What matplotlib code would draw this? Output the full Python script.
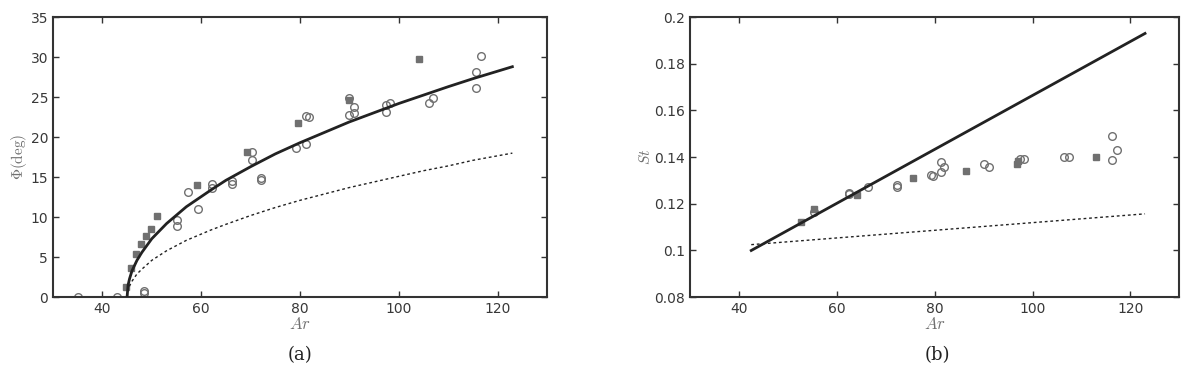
import numpy as np
import matplotlib.pyplot as plt

# ---- panel (a): Phi vs Ar ----
curve_ar = [45, 45.2, 45.5, 46, 47, 48, 50, 53, 57, 62, 65, 70, 75, 80, 85, 90,
            95, 100, 105, 110, 115, 123]
phi_solid = [0, 1.5, 2.3, 3.3, 4.6, 5.6, 7.3, 9.2, 11.3, 13.4, 14.6, 16.3, 17.9, 19.3,
             20.6, 21.9, 23.05, 24.2, 25.25, 26.3, 27.3, 28.8]
phi_dotted = [0, 0.9, 1.4, 2.0, 2.9, 3.5, 4.6, 5.8, 7.1, 8.4, 9.1, 10.2, 11.2, 12.1,
              12.9, 13.7, 14.4, 15.1, 15.8, 16.4, 17.1, 18.0]

phi_sq_ar = [44.8, 45.8, 46.8, 47.8, 48.8, 49.8, 51.0, 59.1, 69.2, 79.6, 89.9, 104.2]
phi_sq = [1.3, 3.7, 5.4, 6.7, 7.6, 8.5, 10.1, 14.0, 18.1, 21.8, 24.6, 29.8]

phi_ci_ar = [35.0, 42.9, 48.5, 48.5, 55.2, 55.2, 57.4, 59.4, 62.1, 62.1, 66.3, 66.3,
             70.3, 70.3, 72.2, 72.2, 79.1, 81.2, 81.2, 81.9, 89.9, 90.9, 89.9, 90.9,
             97.4, 97.4, 98.2, 106.1, 107.0, 115.6, 115.6, 116.6]
phi_ci = [0.0, 0.0, 0.8, 0.5, 9.7, 8.9, 13.2, 11.0, 14.2, 13.7, 14.5, 14.2,
          18.1, 17.2, 14.9, 14.7, 18.6, 19.2, 22.6, 22.5, 24.9, 23.8, 22.8, 23.0,
          24.0, 23.1, 24.3, 24.3, 24.9, 28.1, 26.1, 30.2]

# ---- panel (b): St vs Ar ----
line_ar = [42.5, 123.0]
st_solid = [0.100, 0.193]
st_dotted = [0.1025, 0.1157]

st_sq_ar = [52.7, 55.3, 64.1, 75.5, 86.5, 96.8, 97.1, 112.9]
st_sq = [0.1122, 0.1179, 0.1239, 0.1310, 0.1339, 0.1371, 0.1382, 0.1399]

st_ci_ar = [55.3, 62.4, 62.4, 66.3, 72.3, 72.3, 79.3, 79.6, 81.3, 81.3, 82.0,
            90.1, 91.1, 97.4, 98.2, 106.5, 107.4, 116.3, 117.3, 116.3]
st_ci = [0.1167, 0.1247, 0.1243, 0.1271, 0.1281, 0.1271, 0.1325, 0.1318, 0.1378, 0.1338, 0.1359,
         0.1371, 0.1359, 0.1392, 0.1392, 0.1399, 0.1399, 0.1492, 0.1431, 0.1389]

gray = '#707070'
txt = '#383838'

plt.rcParams['mathtext.fontset'] = 'cm'
fig = plt.figure(figsize=(11.96, 3.8), dpi=100)
ax1 = fig.add_axes([0.0443, 0.218, 0.413, 0.737])
ax2 = fig.add_axes([0.577, 0.218, 0.409, 0.737])

ax1.plot(curve_ar, phi_solid, color='#222222', lw=2, zorder=3)
ax1.plot(curve_ar, phi_dotted, color='#222222', lw=1, ls=(0, (2, 2)), zorder=3)
ax1.plot(phi_ci_ar, phi_ci, 'o', mfc='none', mec=gray, ms=5.5, mew=1)
ax1.plot(phi_sq_ar, phi_sq, 's', color=gray, ms=4.5)
ax1.set_xlim(30, 130)
ax1.set_ylim(0, 35)
ax1.set_xticks([40, 60, 80, 100, 120])
ax1.set_yticks(range(0, 36, 5))
ax1.set_ylabel(r'$\Phi(\mathrm{deg})$', color=gray, fontsize=11, labelpad=1)

ax2.plot(line_ar, st_solid, color='#222222', lw=2, zorder=3)
ax2.plot(line_ar, st_dotted, color='#222222', lw=1, ls=(0, (2, 2)), zorder=3)
ax2.plot(st_ci_ar, st_ci, 'o', mfc='none', mec=gray, ms=5.5, mew=1)
ax2.plot(st_sq_ar, st_sq, 's', color=gray, ms=4.5)
ax2.set_xlim(30, 130)
ax2.set_ylim(0.08, 0.2)
ax2.set_xticks([40, 60, 80, 100, 120])
ax2.set_yticks([0.08, 0.1, 0.12, 0.14, 0.16, 0.18, 0.2])
ax2.set_yticklabels(['0.08', '0.1', '0.12', '0.14', '0.16', '0.18', '0.2'])
ax2.set_ylabel(r'$St$', color=gray, fontsize=11, labelpad=1)

for ax in (ax1, ax2):
    ax.set_xlabel(r'$Ar$', color=gray, fontsize=12, labelpad=-1)
    ax.tick_params(direction='in', top=True, right=True, labelsize=10,
                   labelcolor=txt, color='#333333', length=4, width=1)
    for s in ax.spines.values():
        s.set_linewidth(1.5)
        s.set_color('#333333')

fig.text(0.251, 0.065, '(a)', ha='center', va='center', fontsize=13,
         family='serif', color='#222222')
fig.text(0.784, 0.065, '(b)', ha='center', va='center', fontsize=13,
         family='serif', color='#222222')

fig.savefig('out.png', dpi=100)
